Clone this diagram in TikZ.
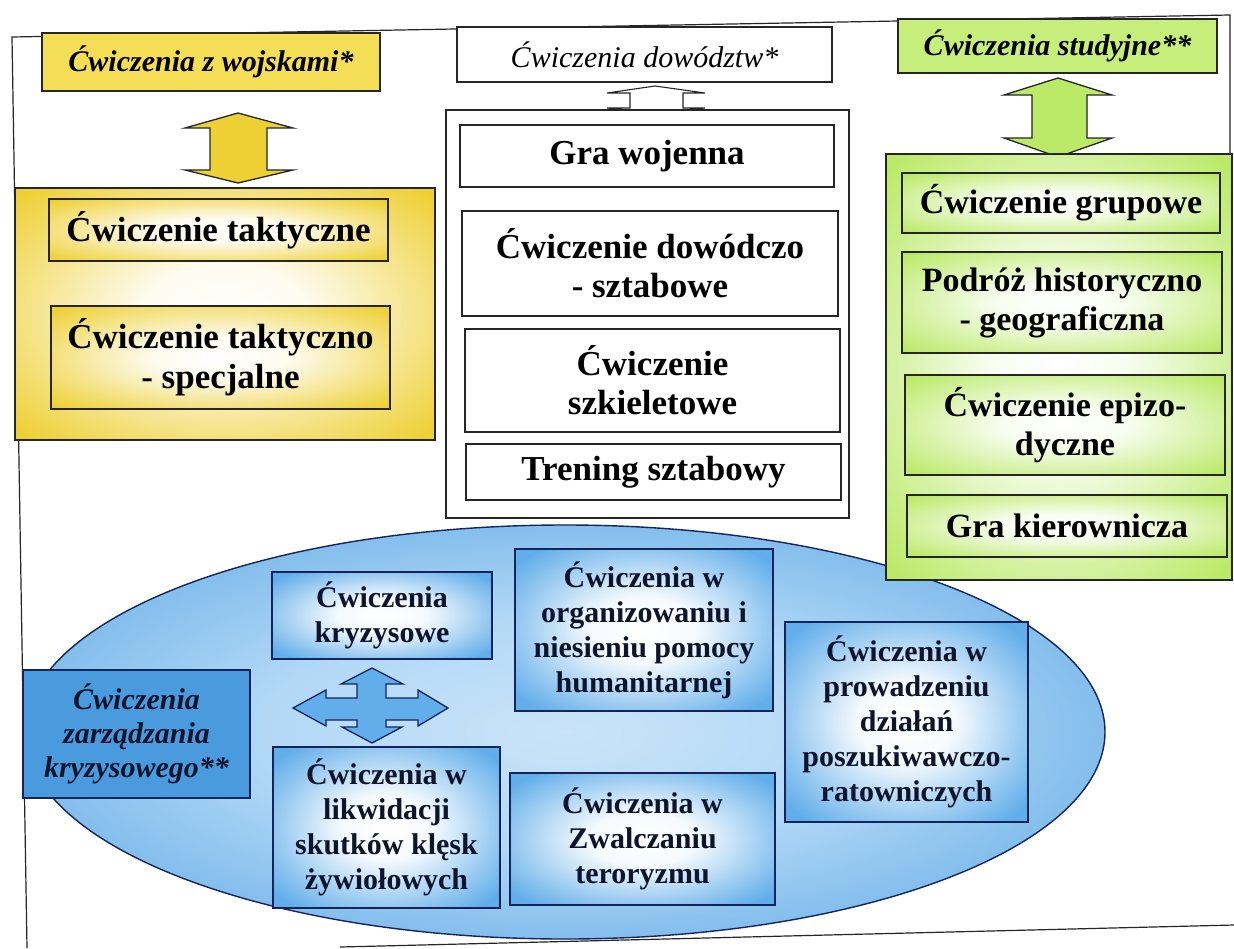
\documentclass[tikz,border=0pt]{standalone}
\usepackage{fontspec}
\setmainfont{Liberation Serif}
\usetikzlibrary{shapes.geometric}
\definecolor{ylw}{RGB}{238,208,52}
\definecolor{ylwT}{RGB}{244,222,86}
\definecolor{grn}{RGB}{186,234,104}
\definecolor{grnT}{RGB}{198,238,122}
\definecolor{blu}{RGB}{78,160,226}
\definecolor{bluL}{RGB}{178,216,246}
\definecolor{bluE}{RGB}{98,174,234}
\definecolor{bluBox}{RGB}{74,155,222}
\definecolor{navy}{RGB}{22,36,92}
\definecolor{ink}{RGB}{15,20,45}
\pgfdeclareradialshading{yglow}{\pgfpoint{0bp}{0bp}}{color(0bp)=(white); color(10bp)=(white!92!ylw); color(34bp)=(ylw); color(50bp)=(ylw)}
\pgfdeclareradialshading{gglow}{\pgfpoint{0bp}{0bp}}{color(0bp)=(white); color(10bp)=(white!90!grn); color(34bp)=(grn); color(50bp)=(grn)}
\pgfdeclareradialshading{bglow}{\pgfpoint{0bp}{0bp}}{color(0bp)=(white); color(10bp)=(white!94!bluE); color(32bp)=(bluE); color(50bp)=(bluE)}
\pgfdeclareradialshading{eglow}{\pgfpoint{0bp}{0bp}}{color(0bp)=(bluL!70!white); color(14bp)=(bluL); color(38bp)=(blu); color(50bp)=(blu)}
\begin{document}
\begin{tikzpicture}[x=1pt,y=-1pt,
  frame/.style={line width=1.2pt, draw=black!85},
  bx/.style={draw=black!85, line width=1.6pt, align=center, inner sep=0pt, text=black},
  ybox/.style={bx, shade, shading=yglow, font=\bfseries\fontsize{35}{40}\selectfont},
  gbox/.style={bx, shade, shading=gglow, font=\bfseries\fontsize{34}{39}\selectfont},
  mbox/.style={bx, fill=white, font=\bfseries\fontsize{35}{39}\selectfont},
  bbox/.style={bx, draw=navy, shade, shading=bglow, text=ink, font=\bfseries\fontsize{30}{35}\selectfont},
  ttl/.style={bx, font=\bfseries\itshape\fontsize{30}{34}\selectfont},
  blockarrow/.style={line width=1.3pt, line join=miter, draw=black!85}
]
\fill[white] (0,0) rectangle (1234,948);
\useasboundingbox (0,0) rectangle (1234,948);

% outer frame
\draw[frame] (27,948) -- (12,37) -- (1230,15) -- (1230,160);
\draw[frame] (340,947) -- (1234,925);

% ellipse
\draw[line width=1.4pt, draw=navy, shade, shading=eglow] (565,732) ellipse [x radius=540, y radius=207];

% yellow column
\node[ttl, fill=ylwT, minimum width=338, minimum height=58] (ytitle) at (211,62) {Ćwiczenia z wojskami*};
\draw[blockarrow, fill=ylw] (238,113) -- (293,128) -- (267,128) -- (267,170) -- (293,170) -- (238,183) -- (185,170) -- (210,170) -- (210,128) -- (185,128) -- cycle;
\node[bx, shade, shading=yglow, minimum width=420, minimum height=252] (ycont) at (225,314) {};
\node[ybox, minimum width=339, minimum height=62] (yb1) at (218.5,230) {Ćwiczenie taktyczne};
\node[ybox, minimum width=339, minimum height=103] (yb2) at (220.5,357.5) {Ćwiczenie taktyczno\\- specjalne};

% middle column
\node[bx, fill=white, font=\itshape\fontsize{30}{34}\selectfont, minimum width=375, minimum height=55] (mtitle) at (644.5,54.5) {Ćwiczenia dowództw*};
\draw[line width=1.1pt, line join=miter, draw=black!85, fill=white] (655,86) -- (705,93) -- (683,93) -- (683,108) -- (705,108) -- (655,113) -- (607,108) -- (630,108) -- (630,93) -- (607,93) -- cycle;
\node[bx, fill=white, minimum width=403, minimum height=408] (mcont) at (647.5,314) {};
\node[mbox, minimum width=374, minimum height=62] (mb1) at (647,156) {Gra wojenna};
\node[mbox, minimum width=376, minimum height=105] (mb2) at (650,263.5) {Ćwiczenie dowódczo\\- sztabowe};
\node[mbox, minimum width=375, minimum height=103] (mb3) at (652.5,380.5) {Ćwiczenie\\szkieletowe};
\node[mbox, minimum width=375, minimum height=56] (mb4) at (653.5,472) {Trening sztabowy};

% green column
\node[ttl, fill=grnT, minimum width=319, minimum height=54] (gtitle) at (1057.5,46) {Ćwiczenia studyjne**};
\draw[blockarrow, fill=grn] (1058,78) -- (1112,95) -- (1087,95) -- (1087,138) -- (1112,138) -- (1058,157) -- (1004,138) -- (1032,138) -- (1032,95) -- (1004,95) -- cycle;
\node[bx, shade, shading=gglow, minimum width=346, minimum height=426] (gcont) at (1059,367) {};
\node[gbox, minimum width=318, minimum height=60] (gb1) at (1061,203) {Ćwiczenie grupowe};
\node[gbox, minimum width=320, minimum height=101] (gb2) at (1062,302.5) {Podróż historyczno\\- geograficzna};
\node[gbox, minimum width=320, minimum height=100] (gb3) at (1065,425) {Ćwiczenie epizo-\\dyczne};
\node[gbox, minimum width=320, minimum height=62] (gb4) at (1067,526) {Gra kierownicza};

% blue area
\node[bx, draw=navy, fill=bluBox, text=ink, font=\bfseries\itshape\fontsize{30}{34}\selectfont, minimum width=227, minimum height=128] (zb) at (136.5,734) {Ćwiczenia\\zarządzania\\kryzysowego**};
\node[bbox, minimum width=220, minimum height=87] (kb) at (382,615.5) {Ćwiczenia\\kryzysowe};
\node[bbox, minimum width=258, minimum height=162] (hb) at (644,630) {Ćwiczenia w\\organizowaniu i\\niesieniu pomocy\\humanitarnej};
\node[bbox, minimum width=227, minimum height=161] (lb) at (386.5,827.5) {Ćwiczenia w\\likwidacji\\skutków klęsk\\żywiołowych};
\node[bbox, minimum width=265, minimum height=132] (tb) at (642.5,839) {Ćwiczenia w\\Zwalczaniu\\teroryzmu};
\node[bbox, minimum width=243, minimum height=200] (rb) at (906.5,722) {Ćwiczenia w\\prowadzeniu\\działań\\poszukiwawczo-\\ratowniczych};

% four-way arrow
\draw[line width=1.3pt, line join=miter, draw=navy, fill=bluE]
  (372,668) -- (403,684) -- (386,684) -- (386,698) -- (418,698) -- (418,690) -- (448,708)
  -- (418,726) -- (418,720) -- (386,720) -- (386,727) -- (402,727) -- (372,743)
  -- (342,727) -- (357,727) -- (357,720) -- (326,720) -- (326,726) -- (293,708)
  -- (326,690) -- (326,698) -- (357,698) -- (357,684) -- (341,684) -- cycle;
\end{tikzpicture}
\end{document}
